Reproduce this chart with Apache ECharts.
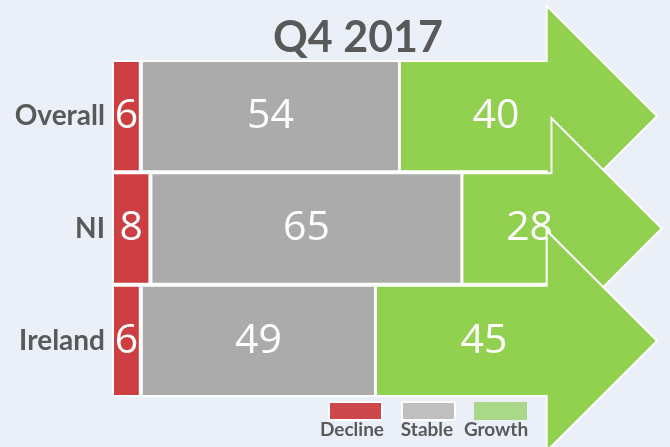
<!DOCTYPE html>
<html>
<head>
<meta charset="utf-8">
<title>Q4 2017</title>
<script src="https://cdn.jsdelivr.net/npm/echarts@6/dist/echarts.min.js"></script>
<style>
  html, body { margin: 0; padding: 0; background: #ebeff8; }
  #chart { width: 670px; height: 447px; }
</style>
</head>
<body>
<div id="chart"></div>
<script>
const categories = ['Overall', 'NI', 'Ireland'];
const decline = [6, 8, 6];
const stable = [54, 65, 49];
const growth = [40, 28, 45];
const seriesNames = ['Decline', 'Stable', 'Growth'];

const chart = echarts.init(document.getElementById('chart'));

// growth arrows start where stable ends
const growthData = growth.map((v, i) => [decline[i] + stable[i], v, i]);

function renderArrow(params, api) {
  const start = api.value(0);
  const val = api.value(1);
  const cat = api.value(2);
  const p0 = api.coord([start, cat]);
  const p1 = api.coord([start + val, cat]);
  const band = api.size([0, 1])[1];
  const yc = p0[1];
  const h = band / 2 - 1;
  const H = band - 2;
  const tip = p1[0] + 65;
  const sh = tip - H;
  return {
    type: 'group',
    children: [
      {
        type: 'polygon',
        shape: {
          points: [
            [p0[0], yc - h], [sh, yc - h], [sh, yc - H], [tip, yc],
            [sh, yc + H], [sh, yc + h], [p0[0], yc + h]
          ]
        },
        style: { fill: '#92d050', stroke: '#ffffff', lineWidth: 2 }
      },
      {
        type: 'text',
        style: {
          text: String(val),
          x: (p0[0] + p1[0]) / 2,
          y: yc,
          align: 'center',
          verticalAlign: 'middle',
          fill: '#ffffff',
          font: '41px "Open Sans"'
        }
      }
    ]
  };
}

const barLabel = {
  show: true,
  position: 'inside',
  color: '#ffffff',
  fontSize: 41,
  fontFamily: 'Open Sans',
  textBorderWidth: 0
};

chart.setOption({
  backgroundColor: '#ebeff8',
  animation: false,
  title: {
    text: 'Q4 2017',
    left: 353,
    top: 12,
    textAlign: 'center',
    textStyle: { fontFamily: 'Lato', fontWeight: 'bold', fontSize: 43, color: '#595959' }
  },
  legend: {
    left: 323,
    top: 396,
    itemWidth: 53,
    itemHeight: 18,
    itemGap: 18,
    selectedMode: false,
    formatter: () => '',
    data: [
      { name: 'Decline', icon: 'rect', itemStyle: { color: '#cd484c' } },
      { name: 'Stable', icon: 'rect', itemStyle: { color: '#bfbfbf' } },
      { name: 'Growth', icon: 'rect', itemStyle: { color: '#a9d988' } }
    ]
  },
  graphic: [
    { type: 'text', x: 352, y: 430, style: { text: 'Decline', align: 'center', verticalAlign: 'middle', font: 'bold 19px Lato', fill: '#595959' } },
    { type: 'text', x: 427, y: 430, style: { text: 'Stable', align: 'center', verticalAlign: 'middle', font: 'bold 19px Lato', fill: '#595959' } },
    { type: 'text', x: 496, y: 430, style: { text: 'Growth', align: 'center', verticalAlign: 'middle', font: 'bold 19px Lato', fill: '#595959' } }
  ],
  grid: { left: 112, right: 78, top: 60, bottom: 50 },
  xAxis: { type: 'value', min: 0, max: 100, show: false },
  yAxis: {
    type: 'category',
    data: categories,
    inverse: true,
    axisLine: { show: false },
    axisTick: { show: false },
    axisLabel: { margin: 7, fontFamily: 'Lato', fontWeight: 'bold', fontSize: 28, color: '#595959' }
  },
  series: [
    {
      name: seriesNames[0],
      type: 'bar',
      stack: 'total',
      barCategoryGap: '0%',
      data: decline,
      itemStyle: { color: '#cc3e42', borderColor: '#ffffff', borderWidth: 2 },
      label: barLabel
    },
    {
      name: seriesNames[1],
      type: 'bar',
      stack: 'total',
      barCategoryGap: '0%',
      data: stable,
      itemStyle: { color: '#ababab', borderColor: '#ffffff', borderWidth: 2 },
      label: barLabel
    },
    {
      name: seriesNames[2],
      type: 'custom',
      clip: false,
      renderItem: renderArrow,
      encode: { x: [0, 1], y: 2 },
      itemStyle: { color: '#92d050' },
      data: growthData
    }
  ]
});
</script>
</body>
</html>
